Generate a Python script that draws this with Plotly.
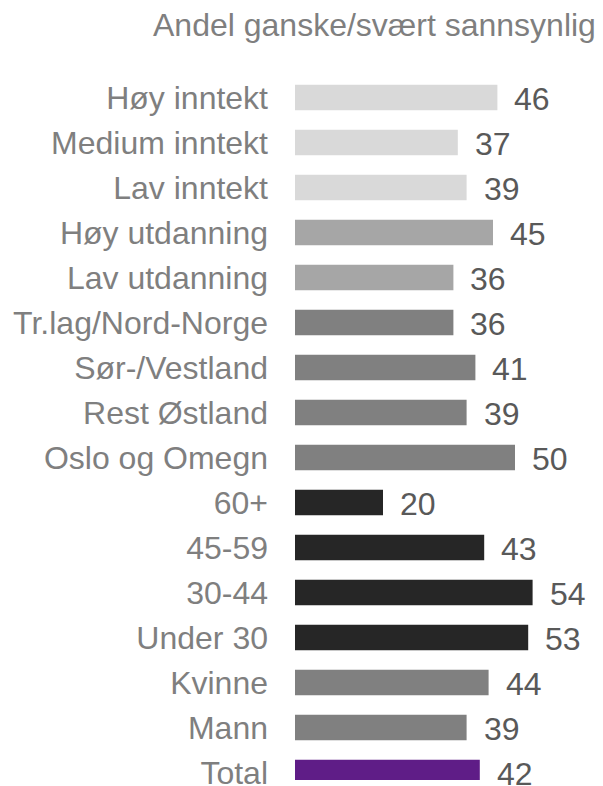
import plotly.graph_objects as go

categories = ["Høy inntekt", "Medium inntekt", "Lav inntekt", "Høy utdanning", "Lav utdanning",
              "Tr.lag/Nord-Norge", "Sør-/Vestland", "Rest Østland", "Oslo og Omegn",
              "60+", "45-59", "30-44", "Under 30", "Kvinne", "Mann", "Total"]
values = [46, 37, 39, 45, 36, 36, 41, 39, 50, 20, 43, 54, 53, 44, 39, 42]
bar_colors = ["#d9d9d9", "#d9d9d9", "#d9d9d9", "#a6a6a6", "#a6a6a6",
              "#808080", "#808080", "#808080", "#808080",
              "#262626", "#262626", "#262626", "#262626",
              "#808080", "#808080", "#5f1d87"]
title_text = "Andel ganske/svært sannsynlig"

# page body has an 8px default margin, so the figure is offset by 8px
OFF = 8
W, H = 603 - OFF, 786 - OFF
ml, mr, mt, mb = 295 - OFF, 8, 52, 6
pw = W - ml - mr
ph = H - mt - mb
px_per_unit = 4.4
xmax = pw / px_per_unit
row_px = 45
first_center = 97.5 - OFF
top_off = (first_center - mt) / row_px
ymin = -top_off
ymax = ymin + ph / row_px

FONT = "Liberation Sans, Arial, sans-serif"
FS = 32
ypos = list(range(len(categories)))

fig = go.Figure()
fig.add_trace(go.Bar(
    x=values, y=ypos, orientation="h",
    marker=dict(color=bar_colors, line=dict(width=0)),
    width=0.57, hoverinfo="skip",
))

for v, yp in zip(values, ypos):
    fig.add_annotation(x=v, y=yp, xref="x", yref="y", text=str(v),
                       showarrow=False, xanchor="left", yanchor="middle",
                       xshift=15, yshift=-1.5,
                       font=dict(family=FONT, size=FS, color="#595959"))

title_right = 598 - OFF
title_mid = 25 - OFF
fig.add_annotation(x=(title_right - ml) / pw, y=1 + (mt - title_mid) / ph,
                   xref="paper", yref="paper",
                   text=title_text, showarrow=False, xanchor="right", yanchor="middle",
                   font=dict(family=FONT, size=FS, color="#7f7f7f"))

fig.update_layout(
    width=W, height=H,
    margin=dict(l=ml, r=mr, t=mt, b=mb, autoexpand=False),
    paper_bgcolor="white", plot_bgcolor="white",
    showlegend=False,
    xaxis=dict(range=[0, xmax], visible=False, fixedrange=True, automargin=False),
    yaxis=dict(range=[ymax, ymin], tickvals=ypos, ticktext=categories,
               showgrid=False, zeroline=False, showline=False, ticks="",
               ticklabelstandoff=26, fixedrange=True, ticklabeloverflow="allow",
               automargin=False,
               tickfont=dict(family=FONT, size=FS, color="#7f7f7f")),
)

fig.write_html("out.html")
